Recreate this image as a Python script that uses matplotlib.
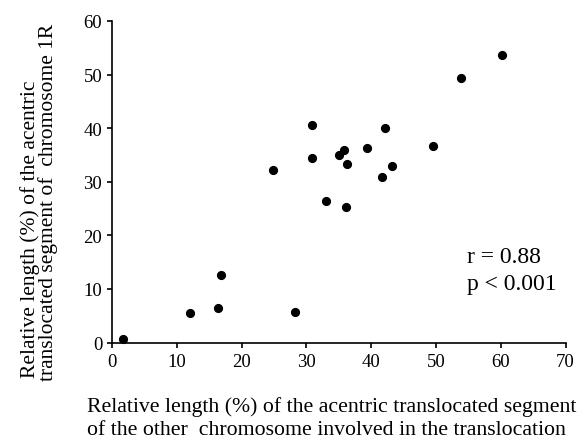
import matplotlib
matplotlib.use("Agg")
import matplotlib.pyplot as plt

# Data
other_chrom = [1.65, 12.0, 16.36, 16.87, 28.19, 33.0, 36.1, 24.9, 30.9, 30.9,
               35.08, 35.75, 39.35, 36.2, 42.13, 43.16, 41.67, 49.6, 53.8, 60.23]
chrom_1r = [0.56, 5.55, 6.48, 12.58, 5.73, 26.5, 25.36, 32.15, 40.56, 34.45,
            35.08, 35.95, 36.26, 33.27, 39.94, 32.9, 30.84, 36.64, 49.35, 53.7]
x_ticks = [0, 10, 20, 30, 40, 50, 60, 70]
y_ticks = [0, 10, 20, 30, 40, 50, 60]
stats_lines = ["r = 0.88", "p < 0.001"]
xlabel_lines = ["Relative length (%) of the acentric translocated segment",
                "of the other  chromosome involved in the translocation"]
ylabel_lines = ["Relative length (%) of the acentric",
                "translocated segment of  chromosome 1R"]

plt.rcParams['font.family'] = ['Liberation Serif', 'DejaVu Serif']

W, H = 580, 439
fig = plt.figure(figsize=(W / 100, H / 100), dpi=100)
ax = fig.add_axes([112 / W, 1 - 343.5 / H, (565.5 - 112) / W, (343.5 - 22) / H])

ax.plot(other_chrom, chrom_1r, 'o', color='black', markersize=5.6,
        linestyle='none', clip_on=False, zorder=3)

ax.set_xlim(0, 70)
ax.set_ylim(0, 60)
ax.set_xticks(x_ticks)
ax.set_yticks(y_ticks)
ax.set_xticklabels([str(v) for v in x_ticks])
ax.set_yticklabels([str(v) for v in y_ticks])
for s in ['top', 'right']:
    ax.spines[s].set_visible(False)
for s in ['left', 'bottom']:
    ax.spines[s].set_linewidth(1.2)
    ax.spines[s].set_color('black')
ax.tick_params(axis='both', direction='out', length=3.5, width=1.2,
               labelsize=13.5, colors='black')
ax.tick_params(axis='y', pad=3.5)
ax.tick_params(axis='x', pad=4)

# stats text
ax.text((466.7 - 112) / (565.5 - 112), (343.5 - 262.7) / 321.5, stats_lines[0],
        transform=ax.transAxes, fontsize=17, va='baseline', ha='left')
ax.text((466.7 - 112) / (565.5 - 112), (343.5 - 290) / 321.5, stats_lines[1],
        transform=ax.transAxes, fontsize=17, va='baseline', ha='left')

# x label (two left-aligned lines)
fig.text(86.7 / W, 1 - 411.7 / H, xlabel_lines[0], fontsize=15.7,
         ha='left', va='baseline')
fig.text(86.7 / W, 1 - 435 / H, xlabel_lines[1], fontsize=15.7,
         ha='left', va='baseline')

# y label (two left-aligned rotated lines)
fig.text(35 / W, 1 - 378 / H, ylabel_lines[0], fontsize=15.5, rotation=90,
         rotation_mode='anchor', ha='left', va='baseline')
fig.text(53 / W, 1 - 381 / H, ylabel_lines[1], fontsize=15.5, rotation=90,
         rotation_mode='anchor', ha='left', va='baseline')

fig.savefig("out.png", dpi=100)
